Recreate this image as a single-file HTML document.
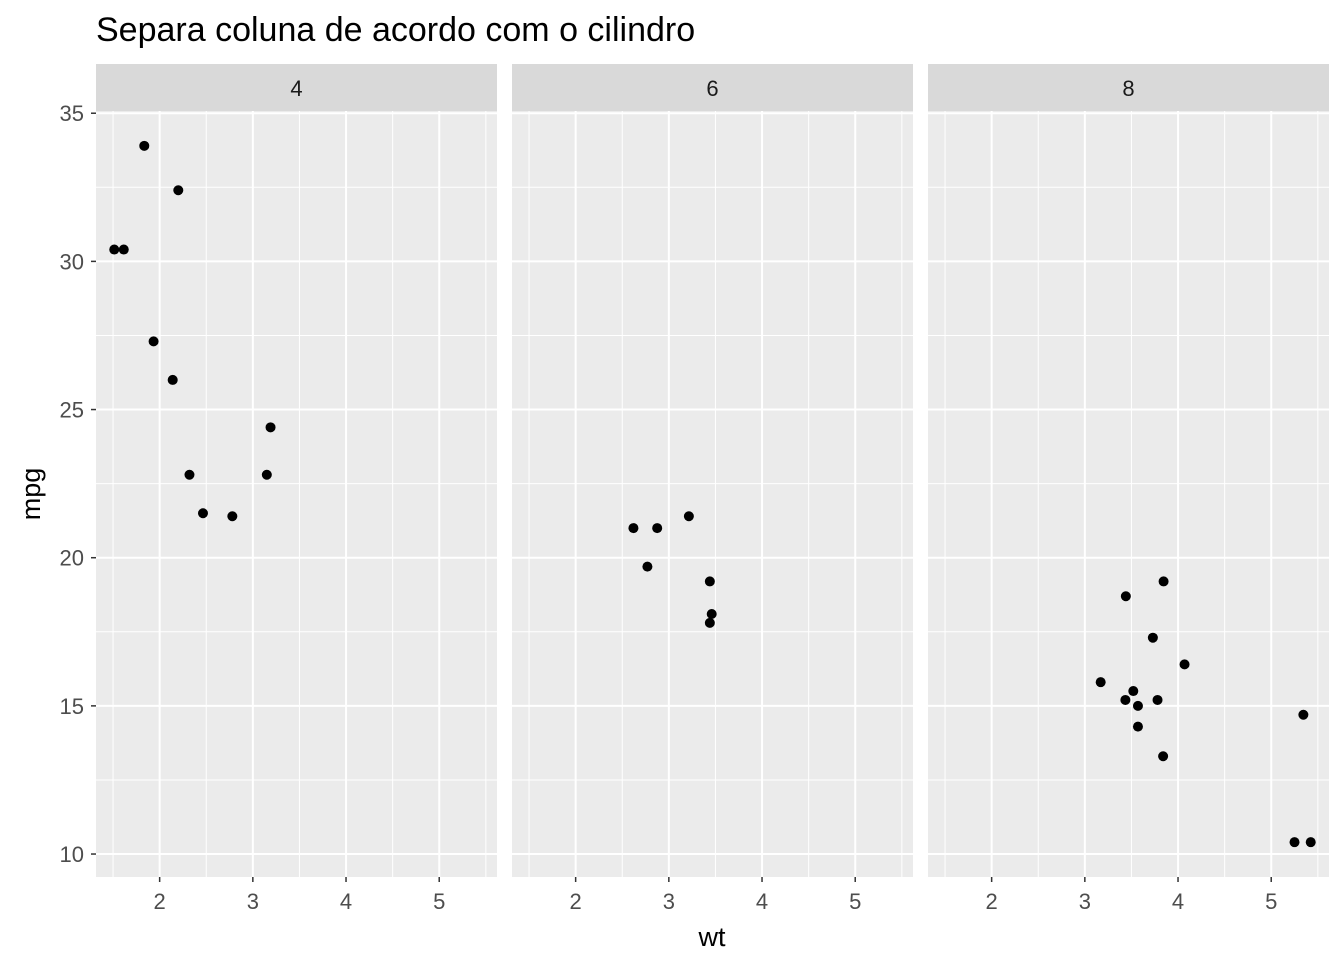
<!DOCTYPE html>
<html><head><meta charset="utf-8">
<style>
html,body{margin:0;padding:0;background:#fff;}
svg{display:block;font-family:"Liberation Sans",Arial,sans-serif;}
</style></head>
<body>
<svg id="chart" width="1344" height="960" xmlns="http://www.w3.org/2000/svg">
<text x="96" y="41" font-size="34" fill="#000">Separa coluna de acordo com o cilindro</text>
<text x="712" y="946" font-size="27" text-anchor="middle" fill="#000">wt</text>
<text transform="translate(40,494) rotate(-90)" font-size="27" text-anchor="middle" fill="#000">mpg</text>
</svg>
<script>
const facets = ["4","6","8"];
const wt4 = [2.32,3.19,3.15,2.2,1.615,1.835,2.465,1.935,2.14,1.513,2.78];
const mpg4 = [22.8,24.4,22.8,32.4,30.4,33.9,21.5,27.3,26,30.4,21.4];
const wt6 = [2.62,2.875,3.215,3.46,3.44,3.44,2.77];
const mpg6 = [21,21,21.4,18.1,19.2,17.8,19.7];
const wt8 = [3.44,3.57,4.07,3.73,3.78,5.25,5.424,5.345,3.52,3.435,3.84,3.845,3.17,3.57];
const mpg8 = [18.7,14.3,16.4,17.3,15.2,10.4,10.4,14.7,15.5,15.2,13.3,19.2,15.8,15.0];
const xTicks = [2,3,4,5];
const yTicks = [10,15,20,25,30,35];
const xMinor = [1.5,2.5,3.5,4.5,5.5];
const yMinor = [12.5,17.5,22.5,27.5,32.5];

const series = [[wt4,mpg4],[wt6,mpg6],[wt8,mpg8]];
const svgEl = document.getElementById('chart');
const NS = 'http://www.w3.org/2000/svg';
const panelX = [96,512,928], panelW = 401, panelTop = 111, panelBottom = 877;
const xmin = 1.317, xmax = 5.62, ymin = 9.225, ymax = 35.075;
function sx(i,v){return panelX[i] + (v-xmin)/(xmax-xmin)*panelW;}
function sy(v){return panelBottom - (v-ymin)/(ymax-ymin)*(panelBottom-panelTop);}
function mk(tag, attrs){const e=document.createElementNS(NS,tag);for(const k in attrs)e.setAttribute(k,attrs[k]);svgEl.appendChild(e);return e;}

for (let i=0;i<3;i++){
  let s = mk('rect',{x:panelX[i],y:64,width:panelW,height:47,fill:'#d9d9d9'});
  
  
  let st = mk('text',{x:panelX[i]+panelW/2,y:96,'font-size':22,'text-anchor':'middle',fill:'#1a1a1a'});
  st.textContent = facets[i];
  
  
  let p = mk('rect',{x:panelX[i],y:panelTop,width:panelW,height:panelBottom-panelTop,fill:'#ebebeb'});
  
  
  xMinor.forEach(v=>{const x=sx(i,v); if(x<panelX[i]+panelW){const l=mk('line',{x1:x,x2:x,y1:panelTop,y2:panelBottom,stroke:'#fff','stroke-width':1});
    }});
  yMinor.forEach(v=>{const y=sy(v);const l=mk('line',{x1:panelX[i],x2:panelX[i]+panelW,y1:y,y2:y,stroke:'#fff','stroke-width':1});
    });
  xTicks.forEach(v=>{const x=sx(i,v);const l=mk('line',{x1:x,x2:x,y1:panelTop,y2:panelBottom,stroke:'#fff','stroke-width':2});
    
    const t=mk('line',{x1:x,x2:x,y1:panelBottom,y2:panelBottom+5,stroke:'#333','stroke-width':1.5});
    
    const tl=mk('text',{x:x,y:909,'font-size':22,'text-anchor':'middle',fill:'#4d4d4d'});tl.textContent=v;
    });
  yTicks.forEach(v=>{const y=sy(v);const l=mk('line',{x1:panelX[i],x2:panelX[i]+panelW,y1:y,y2:y,stroke:'#fff','stroke-width':2});
    });
  const [xs,ys]=series[i];
  xs.forEach((v,j)=>{const c=mk('circle',{cx:sx(i,v),cy:sy(ys[j]),r:5,fill:'#000'});
    });
}
yTicks.forEach(v=>{const y=sy(v);
  const t=mk('line',{x1:91,x2:96,y1:y,y2:y,stroke:'#333','stroke-width':1.5});
  
  const tl=mk('text',{x:84,y:y+8,'font-size':22,'text-anchor':'end',fill:'#4d4d4d'});tl.textContent=v;
  });
</script>
</body></html>
